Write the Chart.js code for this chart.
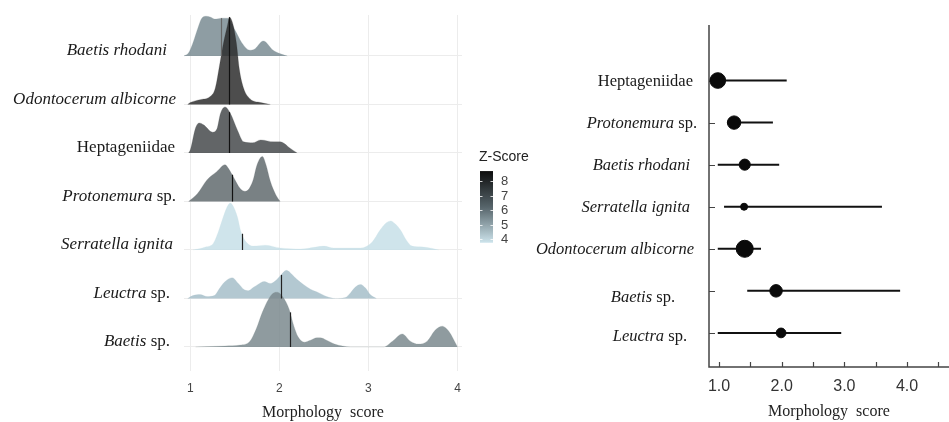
<!DOCTYPE html>
<html>
<head>
<meta charset="utf-8">
<script src="https://cdn.jsdelivr.net/npm/chart.js@4.4.1/dist/chart.umd.min.js"></script>
<style>
  html, body { margin: 0; padding: 0; background: #fff; }
  #wrap { position: relative; width: 949px; height: 422px; overflow: hidden; }
  .layer { position: absolute; left: 0; top: 0; width: 949px; height: 422px; }
</style>
</head>
<body>
<div id="wrap">
  <div class="layer"><canvas id="ridgeChart"></canvas></div>
  <div class="layer"><canvas id="dotChart"></canvas></div>
</div>
<script>
// ---------- left panel: ridgelines (top row first) ----------
const ridgeTaxa = ["Baetis rhodani", "Odontocerum albicorne", "Heptageniidae", "Protonemura sp.",
  "Serratella ignita", "Leuctra sp.", "Baetis sp."];

// density curves: score, height (in row units)
const baetisRhodaniX = [0.93, 0.98, 1.03, 1.09, 1.13, 1.18, 1.23, 1.28, 1.35, 1.42, 1.50, 1.58, 1.67, 1.72, 1.82, 1.93, 2.02, 2.09];
const baetisRhodaniD = [0, 0.06, 0.27, 0.60, 0.78, 0.82, 0.80, 0.76, 0.78, 0.78, 0.54, 0.27, 0.12, 0.14, 0.31, 0.12, 0.04, 0];
const odontocerumX = [0.97, 1.00, 1.11, 1.22, 1.28, 1.33, 1.37, 1.42, 1.44, 1.48, 1.52, 1.55, 1.60, 1.67, 1.79, 1.90];
const odontocerumD = [0, 0.04, 0.10, 0.16, 0.33, 0.82, 1.24, 1.65, 1.80, 1.65, 1.24, 0.74, 0.33, 0.12, 0.04, 0];
const heptageniidaeX = [0.98, 1.00, 1.06, 1.10, 1.15, 1.25, 1.30, 1.34, 1.39, 1.45, 1.53, 1.60, 1.70, 1.79, 1.94, 2.01, 2.12, 2.20];
const heptageniidaeD = [0, 0.06, 0.52, 0.62, 0.58, 0.43, 0.50, 0.82, 0.95, 0.82, 0.47, 0.23, 0.21, 0.27, 0.23, 0.23, 0.10, 0];
const protonemuraX = [0.98, 1.08, 1.19, 1.30, 1.39, 1.43, 1.48, 1.56, 1.62, 1.70, 1.75, 1.81, 1.85, 1.90, 1.96, 2.01];
const protonemuraD = [0, 0.16, 0.45, 0.62, 0.76, 0.68, 0.52, 0.27, 0.21, 0.41, 0.76, 0.93, 0.76, 0.41, 0.14, 0];
const serratellaX = [1.03, 1.17, 1.26, 1.31, 1.37, 1.42, 1.45, 1.48, 1.53, 1.57, 1.63, 1.71, 1.84, 2.01, 2.24, 2.41, 2.50, 2.61,
  2.91, 3.04, 3.13, 3.20, 3.25, 3.30, 3.36, 3.43, 3.49, 3.62, 3.79];
const serratellaD = [0, 0.06, 0.14, 0.35, 0.68, 0.91, 0.97, 0.91, 0.68, 0.37, 0.16, 0.08, 0.10, 0.04, 0.02, 0.06, 0.08, 0.04,
  0.04, 0.16, 0.41, 0.56, 0.60, 0.54, 0.41, 0.19, 0.08, 0.06, 0];
const leuctraX = [0.97, 1.03, 1.11, 1.19, 1.27, 1.33, 1.38, 1.47, 1.54, 1.60, 1.65, 1.71, 1.76, 1.83, 1.90, 1.96, 2.01, 2.08,
  2.14, 2.20, 2.27, 2.35, 2.44, 2.53, 2.63, 2.74, 2.80, 2.85, 2.91, 2.97, 3.02, 3.09];
const leuctraD = [0, 0.06, 0.08, 0.04, 0.06, 0.21, 0.33, 0.43, 0.31, 0.19, 0.16, 0.23, 0.29, 0.35, 0.31, 0.37, 0.47, 0.58,
  0.50, 0.39, 0.29, 0.19, 0.12, 0.04, 0, 0.02, 0.12, 0.23, 0.29, 0.21, 0.08, 0];
const baetisSpX = [1.06, 1.39, 1.56, 1.67, 1.74, 1.81, 1.88, 1.93, 1.98, 2.04, 2.11, 2.16, 2.21, 2.28, 2.35, 2.42, 2.46, 2.53,
  2.62, 2.71, 2.80, 3.17, 3.27, 3.38, 3.47, 3.56, 3.66, 3.75, 3.83, 3.90, 4.00];
const baetisSpD = [0, 0.02, 0.04, 0.12, 0.37, 0.72, 0.99, 1.11, 1.13, 1.03, 0.78, 0.45, 0.21, 0.10, 0.14, 0.19, 0.19, 0.14,
  0.06, 0.02, 0, 0, 0.12, 0.27, 0.12, 0.06, 0.12, 0.35, 0.43, 0.33, 0];

const ridgeScores = [baetisRhodaniX, odontocerumX, heptageniidaeX, protonemuraX, serratellaX, leuctraX, baetisSpX];
const ridgeDensities = [baetisRhodaniD, odontocerumD, heptageniidaeD, protonemuraD, serratellaD, leuctraD, baetisSpD];
const ridgeMedians = [1.35, 1.44, 1.44, 1.47, 1.58, 2.02, 2.12];
const ridgeTicks = [1, 2, 3, 4];

// colour bar
const zTicks = [4, 5, 6, 7, 8];
const zRange = [3.77, 8.68];

// ---------- right panel: mean and range per taxon (top row first) ----------
const dotTaxa = ["Heptageniidae", "Protonemura sp.", "Baetis rhodani", "Serratella ignita",
  "Odontocerum albicorne", "Baetis sp.", "Leuctra sp."];
const dotMean = [0.98, 1.24, 1.41, 1.40, 1.41, 1.91, 1.99];
const dotLow = [0.98, 1.13, 0.98, 1.08, 0.98, 1.45, 0.98];
const dotHigh = [2.08, 1.86, 1.96, 3.60, 1.67, 3.89, 2.95];
const dotZ = [7.6, 6.6, 5.6, 3.8, 8.2, 6.2, 5.0];
const dotTicks = [1.0, 1.5, 2.0, 2.5, 3.0, 3.5, 4.0, 4.5];

// ---------- styles ----------
const ridgeColors = ["rgb(122,140,147)", "rgb(46,46,46)", "rgb(70,74,76)", "rgb(98,107,110)",
  "rgb(199,223,231)", "rgb(166,190,201)", "rgb(123,138,142)"];
const ridgeMedianColors = ["#666", "#111", "#111", "#111", "#222", "#222", "#222"];
// small hand offsets of the labels, [dx, dy] in px
const ridgeLabelNudge = [[-7, 0], [2, 0], [1, 0], [2, 0], [-1, 0], [-4, 0], [-4, 0]];
const dotLabelNudge = [[0, 0], [4, 0], [-3, 0], [-3, 0], [1, 0], [-18, 6], [-6, 3]];
const SERIF = "'Liberation Serif', 'Times New Roman', serif";
const SANS = "'Liberation Sans', Arial, sans-serif";

function labelParts(name) {
  if (/idae$/.test(name)) return [[name, false]];
  if (name.endsWith(" sp.")) return [[name.slice(0, -4), true], [" sp.", false]];
  return [[name, true]];
}

function drawTaxon(ctx, name, xRight, yBase, size) {
  const parts = labelParts(name);
  const fonts = parts.map(p => (p[1] ? "italic " : "") + size + "px " + SERIF);
  let w = 0;
  parts.forEach((p, i) => { ctx.font = fonts[i]; w += ctx.measureText(p[0]).width; });
  let x = xRight - w;
  ctx.textAlign = "left";
  ctx.textBaseline = "alphabetic";
  ctx.fillStyle = "#1a1a1a";
  parts.forEach((p, i) => {
    ctx.font = fonts[i];
    ctx.fillText(p[0], x, yBase);
    x += ctx.measureText(p[0]).width;
  });
}

function densityAt(xs, ds, v) {
  for (let i = 1; i < xs.length; i++) {
    if (v <= xs[i]) {
      const t = (v - xs[i - 1]) / (xs[i] - xs[i - 1]);
      return ds[i - 1] + t * (ds[i] - ds[i - 1]);
    }
  }
  return 0;
}

const withAlpha = (c, a) => c.replace("rgb", "rgba").replace(")", "," + a + ")");
const nRows = ridgeTaxa.length;
const rowOf = i => nRows - 1 - i;

const ridgeDatasets = ridgeTaxa.map((name, i) => ({
  label: name,
  data: ridgeScores[i].map((x, k) => ({ x: x, y: rowOf(i) + ridgeDensities[i][k] })),
  fill: { value: rowOf(i) },
  backgroundColor: withAlpha(ridgeColors[i], 0.85),
  borderColor: withAlpha(ridgeColors[i], 0.4),
  borderWidth: 0.5,
  pointRadius: 0,
  cubicInterpolationMode: "monotone",
  order: rowOf(i),
}));

// medians, row labels and the colour bar
const ridgeExtras = {
  id: "ridgeExtras",
  afterDatasetsDraw(chart) {
    const { ctx, scales: { x, y } } = chart;
    ctx.save();
    ridgeTaxa.forEach((name, i) => {
      const m = ridgeMedians[i];
      const top = rowOf(i) + densityAt(ridgeScores[i], ridgeDensities[i], m);
      const px = Math.round(x.getPixelForValue(m)) + 0.5;
      ctx.strokeStyle = ridgeMedianColors[i];
      ctx.lineWidth = 1.2;
      ctx.beginPath();
      ctx.moveTo(px, y.getPixelForValue(rowOf(i)));
      ctx.lineTo(px, y.getPixelForValue(top));
      ctx.stroke();
    });
    ctx.restore();
  },
  afterDraw(chart) {
    const { ctx, chartArea, scales: { y } } = chart;
    ctx.save();
    ridgeTaxa.forEach((name, i) => {
      const [dx, dy] = ridgeLabelNudge[i];
      drawTaxon(ctx, name, chartArea.left - 10 + dx, y.getPixelForValue(rowOf(i)) - 0.5 + dy, 17);
    });

    // colour bar for Z-Score
    const barX = 480, barW = 13, unit = 14.6, z8 = 181;
    const zPix = z => z8 + (8 - z) * unit;
    const top = zPix(zRange[1]), bottom = zPix(zRange[0]);
    const grad = ctx.createLinearGradient(0, top, 0, bottom);
    grad.addColorStop(0, "#0d0d0d");
    grad.addColorStop(0.5, "#56646a");
    grad.addColorStop(1, "#cde4ec");
    ctx.fillStyle = grad;
    ctx.fillRect(barX, top, barW, bottom - top);
    ctx.strokeStyle = "rgba(255,255,255,0.8)";
    ctx.lineWidth = 1;
    ctx.font = "13px " + SANS;
    ctx.textAlign = "left";
    ctx.textBaseline = "middle";
    zTicks.forEach(z => {
      const py = Math.round(zPix(z)) + 0.5;
      ctx.beginPath();
      ctx.moveTo(barX, py); ctx.lineTo(barX + 2.5, py);
      ctx.moveTo(barX + barW - 2.5, py); ctx.lineTo(barX + barW, py);
      ctx.stroke();
      ctx.fillStyle = "#444";
      ctx.fillText(String(z), barX + 21, py);
    });
    ctx.fillStyle = "#222";
    ctx.font = "14px " + SANS;
    ctx.fillText("Z-Score", barX - 1, 157);
    ctx.restore();
  },
};

new Chart(document.getElementById("ridgeChart"), {
  type: "line",
  data: { datasets: ridgeDatasets },
  options: {
    responsive: true,
    maintainAspectRatio: false,
    animation: false,
    layout: { autoPadding: false, padding: { left: 184, right: 487, top: 15, bottom: 0 } },
    plugins: { legend: { display: false }, tooltip: { enabled: false } },
    scales: {
      x: {
        type: "linear",
        min: 0.93,
        max: 4.05,
        afterBuildTicks: s => { s.ticks = ridgeTicks.map(v => ({ value: v })); },
        afterFit: s => { s.height = 51; },
        grid: { color: "#ececec", drawTicks: false },
        border: { display: false },
        ticks: { padding: 10, color: "#444", font: { family: SANS, size: 12 } },
        title: {
          display: true,
          text: "Morphology  score",
          color: "#222",
          font: { family: SERIF, size: 16 },
          padding: { top: 0, bottom: 0 },
        },
      },
      y: {
        type: "linear",
        min: -0.495,
        max: 6.845,
        afterBuildTicks: s => { s.ticks = ridgeTaxa.map((n, i) => ({ value: rowOf(i) })); },
        afterFit: s => { s.width = 0; },
        grid: { color: "#ececec", drawTicks: false },
        border: { display: false },
        ticks: { display: false },
      },
    },
  },
  plugins: [ridgeExtras],
});

// ---------- right panel ----------
const radiusOf = z => 3.5 + (z - 3.8) * 1.14;

const whiskerSets = dotTaxa.map((name, i) => ({
  type: "line",
  label: name + " range",
  data: [{ x: dotLow[i], y: i }, { x: dotHigh[i], y: i }],
  borderColor: "#111",
  borderWidth: 2,
  pointRadius: 0,
  fill: false,
  order: 2,
}));

const meanSet = {
  type: "scatter",
  label: "mean",
  data: dotMean.map((m, i) => ({ x: m, y: i })),
  backgroundColor: "#0a0a0a",
  borderColor: "#0a0a0a",
  pointRadius: dotZ.map(radiusOf),
  order: 1,
};

const dotExtras = {
  id: "dotExtras",
  beforeDatasetsDraw(chart) {
    const { ctx, chartArea, scales: { x, y } } = chart;
    ctx.save();
    ctx.strokeStyle = "#444";
    ctx.lineWidth = 1.5;
    ctx.beginPath();
    ctx.moveTo(chartArea.left, chartArea.top);
    ctx.lineTo(chartArea.left, chartArea.bottom);
    ctx.lineTo(chartArea.right, chartArea.bottom);
    ctx.stroke();
    ctx.lineWidth = 1.2;
    ctx.beginPath();
    dotTicks.forEach(v => {
      const px = Math.round(x.getPixelForValue(v)) + 0.5;
      ctx.moveTo(px, chartArea.bottom);
      ctx.lineTo(px, chartArea.bottom - 5);
    });
    dotTaxa.forEach((n, i) => {
      const py = Math.round(y.getPixelForValue(i)) + 0.5;
      ctx.moveTo(chartArea.left, py);
      ctx.lineTo(chartArea.left + 6, py);
    });
    ctx.stroke();
    ctx.restore();
  },
  afterDraw(chart) {
    const { ctx, chartArea, scales: { y } } = chart;
    ctx.save();
    dotTaxa.forEach((name, i) => {
      const [dx, dy] = dotLabelNudge[i];
      drawTaxon(ctx, name, chartArea.left - 16 + dx, y.getPixelForValue(i) + 5.5 + dy, 16.5);
    });
    ctx.restore();
  },
};

new Chart(document.getElementById("dotChart"), {
  data: { datasets: [meanSet, ...whiskerSets] },
  options: {
    responsive: true,
    maintainAspectRatio: false,
    animation: false,
    layout: { autoPadding: false, padding: { left: 709, right: 0, top: 25, bottom: 0 } },
    plugins: { legend: { display: false }, tooltip: { enabled: false } },
    scales: {
      x: {
        type: "linear",
        min: 0.84,
        max: 4.67,
        afterBuildTicks: s => { s.ticks = dotTicks.map(v => ({ value: v })); },
        afterFit: s => { s.height = 55; s.paddingLeft = 0; s.paddingRight = 0; },
        grid: { display: false, drawTicks: false },
        border: { display: false },
        ticks: {
          padding: 10,
          color: "#333",
          font: { family: SANS, size: 16 },
          autoSkip: false,
          maxRotation: 0,
          callback: v => (Number.isInteger(v) ? v.toFixed(1) : ""),
        },
        title: {
          display: true,
          text: "Morphology  score",
          color: "#222",
          font: { family: SERIF, size: 16 },
          padding: { top: 0, bottom: 1 },
        },
      },
      y: {
        type: "linear",
        reverse: true,
        min: -1.32,
        max: 6.81,
        afterFit: s => { s.width = 0; },
        grid: { display: false, drawTicks: false },
        border: { display: false },
        ticks: { display: false },
      },
    },
  },
  plugins: [dotExtras],
});
</script>
</body>
</html>
